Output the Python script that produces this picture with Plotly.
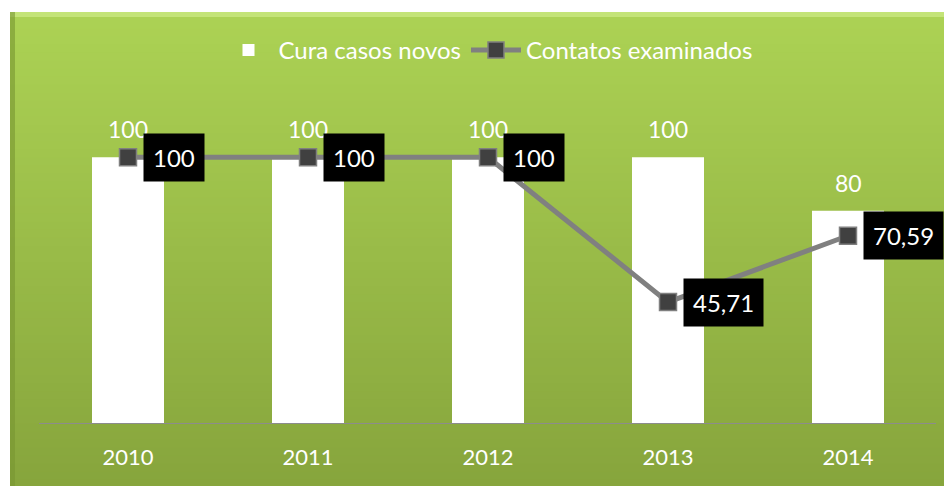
import plotly.graph_objects as go

years = ["2010", "2011", "2012", "2013", "2014"]
cura = [100, 100, 100, 100, 80]
cura_labels = ["100", "100", "100", "100", "80"]
contatos = [100, 100, 100, 45.71, 70.59]
contatos_labels = ["100", "100", "100", "45,71", "70,59"]

W, H = 952, 486
OFF = 8  # page body margin
plot_l, plot_r, plot_t, plot_b = 38, 938, 104, 424
ml = plot_l - OFF
mr = W - (plot_r - OFF)
mt = plot_t - OFF
mb = H - (plot_b - OFF)
pw, ph = plot_r - plot_l, plot_b - plot_t

def px2x(px):
    return (px - plot_l) / pw

def py2y(py):
    return (plot_b - py) / ph

fig = go.Figure()

fig.add_trace(go.Bar(
    x=years, y=cura, name="Cura casos novos",
    marker=dict(color="white", line=dict(width=0)),
    width=0.4,
))

fig.add_trace(go.Scatter(
    x=years, y=contatos, name="Contatos examinados",
    mode="lines+markers",
    line=dict(color="#808080", width=5),
    marker=dict(symbol="square", size=17, color="#404040",
                line=dict(color="#7f7f7f", width=1.5)),
    cliponaxis=False,
))

# bar value labels
for i, (yv, lab) in enumerate(zip(cura, cura_labels)):
    fig.add_annotation(
        x=i, y=yv, text=lab, showarrow=False,
        xanchor="center", yanchor="bottom", yshift=12,
        font=dict(color="white", size=23, family="Lato"),
    )

# line value labels in black boxes
for i, (yv, lab) in enumerate(zip(contatos, contatos_labels)):
    fig.add_annotation(
        x=i, y=yv, text=lab, showarrow=False,
        xanchor="left", yanchor="middle", xshift=15,
        font=dict(color="white", size=24, family="Lato"),
        bgcolor="black", borderpad=9,
    )

shapes = []
n = 60
top_c = (172, 210, 84)
bot_c = (134, 164, 60)
y0px, y1px = 12, H + 10
for k in range(n):
    t = k / (n - 1)
    c = tuple(int(round(top_c[j] + (bot_c[j] - top_c[j]) * t)) for j in range(3))
    a = y0px + (y1px - y0px) * k / n
    b = y0px + (y1px - y0px) * (k + 1) / n + 1
    shapes.append(dict(
        type="rect", xref="paper", yref="paper", layer="below",
        x0=px2x(10), x1=px2x(W + 20), y0=py2y(a), y1=py2y(b),
        fillcolor="rgb(%d,%d,%d)" % c, line=dict(width=0),
    ))
shapes.append(dict(type="rect", xref="paper", yref="paper", layer="below",
                   x0=px2x(10), x1=px2x(W + 20), y0=py2y(12), y1=py2y(17),
                   fillcolor="rgb(196,228,120)", line=dict(width=0)))
shapes.append(dict(type="rect", xref="paper", yref="paper", layer="below",
                   x0=px2x(10), x1=px2x(15), y0=py2y(12), y1=py2y(H + 10),
                   fillcolor="rgba(120,150,50,0.6)", line=dict(width=0)))
shapes.append(dict(type="line", xref="paper", yref="y", layer="above",
                   x0=px2x(39), x1=px2x(936), y0=0, y1=0,
                   line=dict(color="#8c8c8c", width=2)))

fig.update_layout(
    width=W, height=H,
    margin=dict(l=ml, r=mr, t=mt, b=mb),
    paper_bgcolor="white", plot_bgcolor="rgba(0,0,0,0)",
    shapes=shapes,
    showlegend=True,
    legend=dict(orientation="h", x=0.5, xanchor="center", y=py2y(28), yanchor="top",
                font=dict(color="white", size=24, family="Lato"),
                bgcolor="rgba(0,0,0,0)", itemwidth=50, traceorder="normal"),
    xaxis=dict(type="category", range=[-0.5, 4.5], showgrid=False, showline=False,
               zeroline=False, ticks="",
               tickfont=dict(color="white", size=22, family="Lato"),
               ticklabelstandoff=18, fixedrange=True),
    yaxis=dict(range=[0, 120], visible=False, showgrid=False, zeroline=False),
    font=dict(family="Lato", color="white"),
)

fig.write_html("out.html")
